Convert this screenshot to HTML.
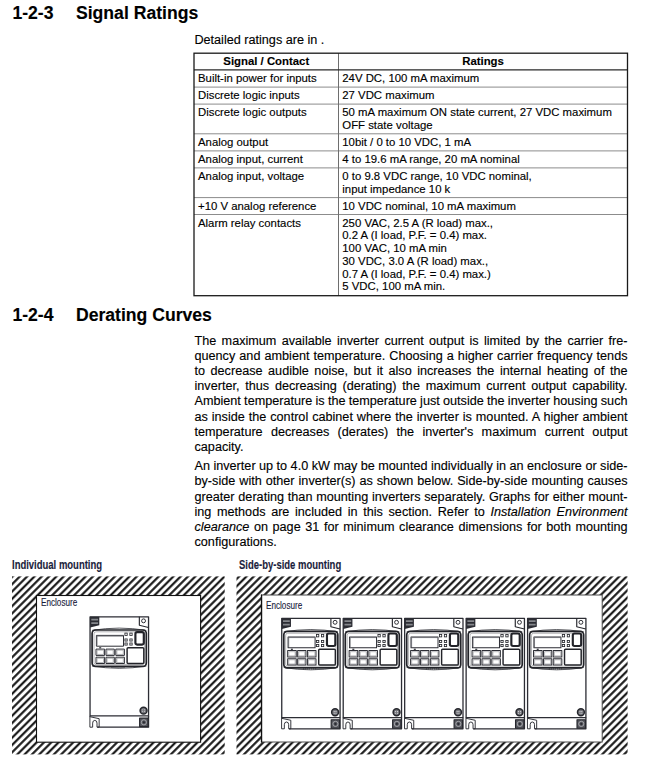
<!DOCTYPE html>
<html><head><meta charset="utf-8"><title>Signal Ratings</title>
<style>
html,body{margin:0;padding:0;background:#fff}
body{width:647px;height:768px;position:relative;overflow:hidden;font-family:"Liberation Sans",sans-serif;color:#000}
.t{position:absolute;white-space:nowrap;-webkit-text-stroke:0.13px currentColor}
.abs{position:absolute}
</style></head><body>
<svg class="abs" style="left:0;top:0" width="647" height="768" viewBox="0 0 647 768">
<defs><pattern id="h" width="5.169" height="5.169" patternUnits="userSpaceOnUse" patternTransform="rotate(45)"><rect x="1.95" y="-1" width="2.03" height="8" fill="#0a0a0a"/></pattern>
</defs>
<rect x="12" y="576.4" width="212.7" height="178" fill="url(#h)"/>
<rect x="36.5" y="595.5" width="164.1" height="146.7" fill="#fff" stroke="#111" stroke-width="1.1"/>
<rect x="236.5" y="576.4" width="391.1" height="178" fill="url(#h)"/>
<rect x="261.6" y="595" width="340.6" height="147" fill="#fff" stroke="#4a4a4a" stroke-width="1"/>
<line x1="261.5" x2="261.5" y1="594.5" y2="742.5" stroke="#111" stroke-width="1.3"/>
<g transform="translate(89.4 616.2)"><g fill="none" stroke="#2c2d34" stroke-width="1.2" stroke-linejoin="round">
<rect x="0.65" y="0.65" width="58.5" height="99.1" fill="#fff" stroke-width="1.3"/>
<path d="M0.65 0.65H9.9V9.1L0.65 11.3Z" fill="#2b2c33" stroke="none"/>
<path d="M1.9 2.5H8.7V4.4H1.9ZM1.9 6H8.7V7.8H1.9Z" fill="#85878c" stroke="none"/>
<path d="M49.95 0.65V9.1L59.1 11.3" stroke-width="1.15" stroke="#26272d"/>
<circle cx="54.15" cy="4.65" r="1.95" stroke-width="0.95" stroke="#26272d"/>
<path d="M2.6 14.2 Q29.8 9.6 57 14.2" stroke-width="0.8"/>
<path d="M2.6 49.8 Q29.8 54.4 57 49.8" stroke-width="0.8"/>
<path d="M22 51.2H36" stroke-width="0.8" stroke-dasharray="1.2 0.8"/>
<rect x="2.7" y="13.8" width="54.2" height="36.4" rx="3.4" stroke-width="1.7" stroke="#222329"/>
<rect x="4.6" y="15.6" width="50.4" height="32.8" rx="2" stroke-width="0.5" stroke="#6a6b70"/>
<rect x="7" y="19.2" width="27.1" height="10.8" stroke-width="1"/>
<path d="M7.6 29.4V19.9H33.6" stroke-width="0.9" stroke="#6f7076"/>
<g stroke-width="0.85" stroke="#26272d" stroke-linejoin="miter"><rect x="35.5" y="16.9" width="2.3" height="2.3"/><rect x="40.45" y="16.9" width="2.3" height="2.3"/>
<rect x="35.5" y="22.75" width="2.3" height="2.1"/><rect x="40.45" y="22.75" width="2.3" height="2.1"/>
<rect x="35.5" y="26.8" width="2.3" height="2.1"/><rect x="40.45" y="26.8" width="2.3" height="2.1"/></g>
<rect x="46" y="15.85" width="8.4" height="12.5" rx="1.7" stroke-width="2.15" stroke="#222329"/>
<rect x="37.7" y="31.5" width="16.7" height="15.8" rx="1" stroke-width="1.45" stroke="#222329"/>
<g stroke-width="1"><rect x="6.6" y="32.9" width="8.6" height="6.3"/><rect x="16.6" y="32.9" width="8.3" height="6.3"/><rect x="26.4" y="32.9" width="8.6" height="6.3"/>
<rect x="6.6" y="41" width="8.6" height="6.3"/><rect x="16.6" y="41" width="8.3" height="6.3"/><rect x="26.4" y="41" width="8.6" height="6.3"/></g>
<g stroke-width="0.5" stroke="#77787d"><rect x="7.7" y="34" width="6.4" height="4.2"/><rect x="17.7" y="34" width="6.1" height="4.2"/><rect x="27.5" y="34" width="6.4" height="4.2"/>
<rect x="7.7" y="42.1" width="6.4" height="4.2"/><rect x="17.7" y="42.1" width="6.1" height="4.2"/><rect x="27.5" y="42.1" width="6.4" height="4.2"/></g>
<path d="M9.8 31.6H11.8" stroke-width="1.2"/>
<path d="M0.5 99.75V111H3.25V106.9Q3.25 104.2 5.4 104.2Q7.6 104.2 7.6 106.9V111H9.75V102.5L0.5 100.5" fill="#fff" stroke-width="0.95"/>
<path d="M7.9 111H59.15V99.75" stroke-width="1.3"/>
<rect x="50.2" y="101.95" width="8.45" height="8.5" fill="#55565d" stroke="#26272d" stroke-width="1.1"/>
<circle cx="54.5" cy="106.1" r="2.6" stroke="#b4b5b9" stroke-width="0.8"/>
<circle cx="54.5" cy="106.1" r="1.1" fill="#2b2c33" stroke="none"/>
<circle cx="54.15" cy="94.45" r="3.45" fill="#74757b" stroke-width="1.5" stroke="#26272d"/>
<path d="M52.8 93.2h.9v.9h-.9zM54.6 93.2h.9v.9h-.9zM52.8 95h.9v.9h-.9zM54.6 95h.9v.9h-.9z" fill="#dcdcdf" stroke="none"/>
</g></g>
<g transform="translate(281.10 617.65) scale(0.997 1.0014)"><g fill="none" stroke="#2c2d34" stroke-width="1.2" stroke-linejoin="round">
<rect x="0.65" y="0.65" width="58.5" height="99.1" fill="#fff" stroke-width="1.3"/>
<path d="M0.65 0.65H9.9V9.1L0.65 11.3Z" fill="#2b2c33" stroke="none"/>
<path d="M1.9 2.5H8.7V4.4H1.9ZM1.9 6H8.7V7.8H1.9Z" fill="#85878c" stroke="none"/>
<path d="M49.95 0.65V9.1L59.1 11.3" stroke-width="1.15" stroke="#26272d"/>
<circle cx="54.15" cy="4.65" r="1.95" stroke-width="0.95" stroke="#26272d"/>
<path d="M2.6 14.2 Q29.8 9.6 57 14.2" stroke-width="0.8"/>
<path d="M2.6 49.8 Q29.8 54.4 57 49.8" stroke-width="0.8"/>
<path d="M22 51.2H36" stroke-width="0.8" stroke-dasharray="1.2 0.8"/>
<rect x="2.7" y="13.8" width="54.2" height="36.4" rx="3.4" stroke-width="1.7" stroke="#222329"/>
<rect x="4.6" y="15.6" width="50.4" height="32.8" rx="2" stroke-width="0.5" stroke="#6a6b70"/>
<rect x="7" y="19.2" width="27.1" height="10.8" stroke-width="1"/>
<path d="M7.6 29.4V19.9H33.6" stroke-width="0.9" stroke="#6f7076"/>
<g stroke-width="0.85" stroke="#26272d" stroke-linejoin="miter"><rect x="35.5" y="16.9" width="2.3" height="2.3"/><rect x="40.45" y="16.9" width="2.3" height="2.3"/>
<rect x="35.5" y="22.75" width="2.3" height="2.1"/><rect x="40.45" y="22.75" width="2.3" height="2.1"/>
<rect x="35.5" y="26.8" width="2.3" height="2.1"/><rect x="40.45" y="26.8" width="2.3" height="2.1"/></g>
<rect x="46" y="15.85" width="8.4" height="12.5" rx="1.7" stroke-width="2.15" stroke="#222329"/>
<rect x="37.7" y="31.5" width="16.7" height="15.8" rx="1" stroke-width="1.45" stroke="#222329"/>
<g stroke-width="1"><rect x="6.6" y="32.9" width="8.6" height="6.3"/><rect x="16.6" y="32.9" width="8.3" height="6.3"/><rect x="26.4" y="32.9" width="8.6" height="6.3"/>
<rect x="6.6" y="41" width="8.6" height="6.3"/><rect x="16.6" y="41" width="8.3" height="6.3"/><rect x="26.4" y="41" width="8.6" height="6.3"/></g>
<g stroke-width="0.5" stroke="#77787d"><rect x="7.7" y="34" width="6.4" height="4.2"/><rect x="17.7" y="34" width="6.1" height="4.2"/><rect x="27.5" y="34" width="6.4" height="4.2"/>
<rect x="7.7" y="42.1" width="6.4" height="4.2"/><rect x="17.7" y="42.1" width="6.1" height="4.2"/><rect x="27.5" y="42.1" width="6.4" height="4.2"/></g>
<path d="M9.8 31.6H11.8" stroke-width="1.2"/>
<path d="M0.5 99.75V111H3.25V106.9Q3.25 104.2 5.4 104.2Q7.6 104.2 7.6 106.9V111H9.75V102.5L0.5 100.5" fill="#fff" stroke-width="0.95"/>
<path d="M7.9 111H59.15V99.75" stroke-width="1.3"/>
<rect x="50.2" y="101.95" width="8.45" height="8.5" fill="#55565d" stroke="#26272d" stroke-width="1.1"/>
<circle cx="54.5" cy="106.1" r="2.6" stroke="#b4b5b9" stroke-width="0.8"/>
<circle cx="54.5" cy="106.1" r="1.1" fill="#2b2c33" stroke="none"/>
<circle cx="54.15" cy="94.45" r="3.45" fill="#74757b" stroke-width="1.5" stroke="#26272d"/>
<path d="M52.8 93.2h.9v.9h-.9zM54.6 93.2h.9v.9h-.9zM52.8 95h.9v.9h-.9zM54.6 95h.9v.9h-.9z" fill="#dcdcdf" stroke="none"/>
</g></g>
<g transform="translate(342.56 617.65) scale(0.997 1.0014)"><g fill="none" stroke="#2c2d34" stroke-width="1.2" stroke-linejoin="round">
<rect x="0.65" y="0.65" width="58.5" height="99.1" fill="#fff" stroke-width="1.3"/>
<path d="M0.65 0.65H9.9V9.1L0.65 11.3Z" fill="#2b2c33" stroke="none"/>
<path d="M1.9 2.5H8.7V4.4H1.9ZM1.9 6H8.7V7.8H1.9Z" fill="#85878c" stroke="none"/>
<path d="M49.95 0.65V9.1L59.1 11.3" stroke-width="1.15" stroke="#26272d"/>
<circle cx="54.15" cy="4.65" r="1.95" stroke-width="0.95" stroke="#26272d"/>
<path d="M2.6 14.2 Q29.8 9.6 57 14.2" stroke-width="0.8"/>
<path d="M2.6 49.8 Q29.8 54.4 57 49.8" stroke-width="0.8"/>
<path d="M22 51.2H36" stroke-width="0.8" stroke-dasharray="1.2 0.8"/>
<rect x="2.7" y="13.8" width="54.2" height="36.4" rx="3.4" stroke-width="1.7" stroke="#222329"/>
<rect x="4.6" y="15.6" width="50.4" height="32.8" rx="2" stroke-width="0.5" stroke="#6a6b70"/>
<rect x="7" y="19.2" width="27.1" height="10.8" stroke-width="1"/>
<path d="M7.6 29.4V19.9H33.6" stroke-width="0.9" stroke="#6f7076"/>
<g stroke-width="0.85" stroke="#26272d" stroke-linejoin="miter"><rect x="35.5" y="16.9" width="2.3" height="2.3"/><rect x="40.45" y="16.9" width="2.3" height="2.3"/>
<rect x="35.5" y="22.75" width="2.3" height="2.1"/><rect x="40.45" y="22.75" width="2.3" height="2.1"/>
<rect x="35.5" y="26.8" width="2.3" height="2.1"/><rect x="40.45" y="26.8" width="2.3" height="2.1"/></g>
<rect x="46" y="15.85" width="8.4" height="12.5" rx="1.7" stroke-width="2.15" stroke="#222329"/>
<rect x="37.7" y="31.5" width="16.7" height="15.8" rx="1" stroke-width="1.45" stroke="#222329"/>
<g stroke-width="1"><rect x="6.6" y="32.9" width="8.6" height="6.3"/><rect x="16.6" y="32.9" width="8.3" height="6.3"/><rect x="26.4" y="32.9" width="8.6" height="6.3"/>
<rect x="6.6" y="41" width="8.6" height="6.3"/><rect x="16.6" y="41" width="8.3" height="6.3"/><rect x="26.4" y="41" width="8.6" height="6.3"/></g>
<g stroke-width="0.5" stroke="#77787d"><rect x="7.7" y="34" width="6.4" height="4.2"/><rect x="17.7" y="34" width="6.1" height="4.2"/><rect x="27.5" y="34" width="6.4" height="4.2"/>
<rect x="7.7" y="42.1" width="6.4" height="4.2"/><rect x="17.7" y="42.1" width="6.1" height="4.2"/><rect x="27.5" y="42.1" width="6.4" height="4.2"/></g>
<path d="M9.8 31.6H11.8" stroke-width="1.2"/>
<path d="M0.5 99.75V111H3.25V106.9Q3.25 104.2 5.4 104.2Q7.6 104.2 7.6 106.9V111H9.75V102.5L0.5 100.5" fill="#fff" stroke-width="0.95"/>
<path d="M7.9 111H59.15V99.75" stroke-width="1.3"/>
<rect x="50.2" y="101.95" width="8.45" height="8.5" fill="#55565d" stroke="#26272d" stroke-width="1.1"/>
<circle cx="54.5" cy="106.1" r="2.6" stroke="#b4b5b9" stroke-width="0.8"/>
<circle cx="54.5" cy="106.1" r="1.1" fill="#2b2c33" stroke="none"/>
<circle cx="54.15" cy="94.45" r="3.45" fill="#74757b" stroke-width="1.5" stroke="#26272d"/>
<path d="M52.8 93.2h.9v.9h-.9zM54.6 93.2h.9v.9h-.9zM52.8 95h.9v.9h-.9zM54.6 95h.9v.9h-.9z" fill="#dcdcdf" stroke="none"/>
</g></g>
<g transform="translate(404.02 617.65) scale(0.997 1.0014)"><g fill="none" stroke="#2c2d34" stroke-width="1.2" stroke-linejoin="round">
<rect x="0.65" y="0.65" width="58.5" height="99.1" fill="#fff" stroke-width="1.3"/>
<path d="M0.65 0.65H9.9V9.1L0.65 11.3Z" fill="#2b2c33" stroke="none"/>
<path d="M1.9 2.5H8.7V4.4H1.9ZM1.9 6H8.7V7.8H1.9Z" fill="#85878c" stroke="none"/>
<path d="M49.95 0.65V9.1L59.1 11.3" stroke-width="1.15" stroke="#26272d"/>
<circle cx="54.15" cy="4.65" r="1.95" stroke-width="0.95" stroke="#26272d"/>
<path d="M2.6 14.2 Q29.8 9.6 57 14.2" stroke-width="0.8"/>
<path d="M2.6 49.8 Q29.8 54.4 57 49.8" stroke-width="0.8"/>
<path d="M22 51.2H36" stroke-width="0.8" stroke-dasharray="1.2 0.8"/>
<rect x="2.7" y="13.8" width="54.2" height="36.4" rx="3.4" stroke-width="1.7" stroke="#222329"/>
<rect x="4.6" y="15.6" width="50.4" height="32.8" rx="2" stroke-width="0.5" stroke="#6a6b70"/>
<rect x="7" y="19.2" width="27.1" height="10.8" stroke-width="1"/>
<path d="M7.6 29.4V19.9H33.6" stroke-width="0.9" stroke="#6f7076"/>
<g stroke-width="0.85" stroke="#26272d" stroke-linejoin="miter"><rect x="35.5" y="16.9" width="2.3" height="2.3"/><rect x="40.45" y="16.9" width="2.3" height="2.3"/>
<rect x="35.5" y="22.75" width="2.3" height="2.1"/><rect x="40.45" y="22.75" width="2.3" height="2.1"/>
<rect x="35.5" y="26.8" width="2.3" height="2.1"/><rect x="40.45" y="26.8" width="2.3" height="2.1"/></g>
<rect x="46" y="15.85" width="8.4" height="12.5" rx="1.7" stroke-width="2.15" stroke="#222329"/>
<rect x="37.7" y="31.5" width="16.7" height="15.8" rx="1" stroke-width="1.45" stroke="#222329"/>
<g stroke-width="1"><rect x="6.6" y="32.9" width="8.6" height="6.3"/><rect x="16.6" y="32.9" width="8.3" height="6.3"/><rect x="26.4" y="32.9" width="8.6" height="6.3"/>
<rect x="6.6" y="41" width="8.6" height="6.3"/><rect x="16.6" y="41" width="8.3" height="6.3"/><rect x="26.4" y="41" width="8.6" height="6.3"/></g>
<g stroke-width="0.5" stroke="#77787d"><rect x="7.7" y="34" width="6.4" height="4.2"/><rect x="17.7" y="34" width="6.1" height="4.2"/><rect x="27.5" y="34" width="6.4" height="4.2"/>
<rect x="7.7" y="42.1" width="6.4" height="4.2"/><rect x="17.7" y="42.1" width="6.1" height="4.2"/><rect x="27.5" y="42.1" width="6.4" height="4.2"/></g>
<path d="M9.8 31.6H11.8" stroke-width="1.2"/>
<path d="M0.5 99.75V111H3.25V106.9Q3.25 104.2 5.4 104.2Q7.6 104.2 7.6 106.9V111H9.75V102.5L0.5 100.5" fill="#fff" stroke-width="0.95"/>
<path d="M7.9 111H59.15V99.75" stroke-width="1.3"/>
<rect x="50.2" y="101.95" width="8.45" height="8.5" fill="#55565d" stroke="#26272d" stroke-width="1.1"/>
<circle cx="54.5" cy="106.1" r="2.6" stroke="#b4b5b9" stroke-width="0.8"/>
<circle cx="54.5" cy="106.1" r="1.1" fill="#2b2c33" stroke="none"/>
<circle cx="54.15" cy="94.45" r="3.45" fill="#74757b" stroke-width="1.5" stroke="#26272d"/>
<path d="M52.8 93.2h.9v.9h-.9zM54.6 93.2h.9v.9h-.9zM52.8 95h.9v.9h-.9zM54.6 95h.9v.9h-.9z" fill="#dcdcdf" stroke="none"/>
</g></g>
<g transform="translate(465.48 617.65) scale(0.997 1.0014)"><g fill="none" stroke="#2c2d34" stroke-width="1.2" stroke-linejoin="round">
<rect x="0.65" y="0.65" width="58.5" height="99.1" fill="#fff" stroke-width="1.3"/>
<path d="M0.65 0.65H9.9V9.1L0.65 11.3Z" fill="#2b2c33" stroke="none"/>
<path d="M1.9 2.5H8.7V4.4H1.9ZM1.9 6H8.7V7.8H1.9Z" fill="#85878c" stroke="none"/>
<path d="M49.95 0.65V9.1L59.1 11.3" stroke-width="1.15" stroke="#26272d"/>
<circle cx="54.15" cy="4.65" r="1.95" stroke-width="0.95" stroke="#26272d"/>
<path d="M2.6 14.2 Q29.8 9.6 57 14.2" stroke-width="0.8"/>
<path d="M2.6 49.8 Q29.8 54.4 57 49.8" stroke-width="0.8"/>
<path d="M22 51.2H36" stroke-width="0.8" stroke-dasharray="1.2 0.8"/>
<rect x="2.7" y="13.8" width="54.2" height="36.4" rx="3.4" stroke-width="1.7" stroke="#222329"/>
<rect x="4.6" y="15.6" width="50.4" height="32.8" rx="2" stroke-width="0.5" stroke="#6a6b70"/>
<rect x="7" y="19.2" width="27.1" height="10.8" stroke-width="1"/>
<path d="M7.6 29.4V19.9H33.6" stroke-width="0.9" stroke="#6f7076"/>
<g stroke-width="0.85" stroke="#26272d" stroke-linejoin="miter"><rect x="35.5" y="16.9" width="2.3" height="2.3"/><rect x="40.45" y="16.9" width="2.3" height="2.3"/>
<rect x="35.5" y="22.75" width="2.3" height="2.1"/><rect x="40.45" y="22.75" width="2.3" height="2.1"/>
<rect x="35.5" y="26.8" width="2.3" height="2.1"/><rect x="40.45" y="26.8" width="2.3" height="2.1"/></g>
<rect x="46" y="15.85" width="8.4" height="12.5" rx="1.7" stroke-width="2.15" stroke="#222329"/>
<rect x="37.7" y="31.5" width="16.7" height="15.8" rx="1" stroke-width="1.45" stroke="#222329"/>
<g stroke-width="1"><rect x="6.6" y="32.9" width="8.6" height="6.3"/><rect x="16.6" y="32.9" width="8.3" height="6.3"/><rect x="26.4" y="32.9" width="8.6" height="6.3"/>
<rect x="6.6" y="41" width="8.6" height="6.3"/><rect x="16.6" y="41" width="8.3" height="6.3"/><rect x="26.4" y="41" width="8.6" height="6.3"/></g>
<g stroke-width="0.5" stroke="#77787d"><rect x="7.7" y="34" width="6.4" height="4.2"/><rect x="17.7" y="34" width="6.1" height="4.2"/><rect x="27.5" y="34" width="6.4" height="4.2"/>
<rect x="7.7" y="42.1" width="6.4" height="4.2"/><rect x="17.7" y="42.1" width="6.1" height="4.2"/><rect x="27.5" y="42.1" width="6.4" height="4.2"/></g>
<path d="M9.8 31.6H11.8" stroke-width="1.2"/>
<path d="M0.5 99.75V111H3.25V106.9Q3.25 104.2 5.4 104.2Q7.6 104.2 7.6 106.9V111H9.75V102.5L0.5 100.5" fill="#fff" stroke-width="0.95"/>
<path d="M7.9 111H59.15V99.75" stroke-width="1.3"/>
<rect x="50.2" y="101.95" width="8.45" height="8.5" fill="#55565d" stroke="#26272d" stroke-width="1.1"/>
<circle cx="54.5" cy="106.1" r="2.6" stroke="#b4b5b9" stroke-width="0.8"/>
<circle cx="54.5" cy="106.1" r="1.1" fill="#2b2c33" stroke="none"/>
<circle cx="54.15" cy="94.45" r="3.45" fill="#74757b" stroke-width="1.5" stroke="#26272d"/>
<path d="M52.8 93.2h.9v.9h-.9zM54.6 93.2h.9v.9h-.9zM52.8 95h.9v.9h-.9zM54.6 95h.9v.9h-.9z" fill="#dcdcdf" stroke="none"/>
</g></g>
<g transform="translate(526.94 617.65) scale(0.997 1.0014)"><g fill="none" stroke="#2c2d34" stroke-width="1.2" stroke-linejoin="round">
<rect x="0.65" y="0.65" width="58.5" height="99.1" fill="#fff" stroke-width="1.3"/>
<path d="M0.65 0.65H9.9V9.1L0.65 11.3Z" fill="#2b2c33" stroke="none"/>
<path d="M1.9 2.5H8.7V4.4H1.9ZM1.9 6H8.7V7.8H1.9Z" fill="#85878c" stroke="none"/>
<path d="M49.95 0.65V9.1L59.1 11.3" stroke-width="1.15" stroke="#26272d"/>
<circle cx="54.15" cy="4.65" r="1.95" stroke-width="0.95" stroke="#26272d"/>
<path d="M2.6 14.2 Q29.8 9.6 57 14.2" stroke-width="0.8"/>
<path d="M2.6 49.8 Q29.8 54.4 57 49.8" stroke-width="0.8"/>
<path d="M22 51.2H36" stroke-width="0.8" stroke-dasharray="1.2 0.8"/>
<rect x="2.7" y="13.8" width="54.2" height="36.4" rx="3.4" stroke-width="1.7" stroke="#222329"/>
<rect x="4.6" y="15.6" width="50.4" height="32.8" rx="2" stroke-width="0.5" stroke="#6a6b70"/>
<rect x="7" y="19.2" width="27.1" height="10.8" stroke-width="1"/>
<path d="M7.6 29.4V19.9H33.6" stroke-width="0.9" stroke="#6f7076"/>
<g stroke-width="0.85" stroke="#26272d" stroke-linejoin="miter"><rect x="35.5" y="16.9" width="2.3" height="2.3"/><rect x="40.45" y="16.9" width="2.3" height="2.3"/>
<rect x="35.5" y="22.75" width="2.3" height="2.1"/><rect x="40.45" y="22.75" width="2.3" height="2.1"/>
<rect x="35.5" y="26.8" width="2.3" height="2.1"/><rect x="40.45" y="26.8" width="2.3" height="2.1"/></g>
<rect x="46" y="15.85" width="8.4" height="12.5" rx="1.7" stroke-width="2.15" stroke="#222329"/>
<rect x="37.7" y="31.5" width="16.7" height="15.8" rx="1" stroke-width="1.45" stroke="#222329"/>
<g stroke-width="1"><rect x="6.6" y="32.9" width="8.6" height="6.3"/><rect x="16.6" y="32.9" width="8.3" height="6.3"/><rect x="26.4" y="32.9" width="8.6" height="6.3"/>
<rect x="6.6" y="41" width="8.6" height="6.3"/><rect x="16.6" y="41" width="8.3" height="6.3"/><rect x="26.4" y="41" width="8.6" height="6.3"/></g>
<g stroke-width="0.5" stroke="#77787d"><rect x="7.7" y="34" width="6.4" height="4.2"/><rect x="17.7" y="34" width="6.1" height="4.2"/><rect x="27.5" y="34" width="6.4" height="4.2"/>
<rect x="7.7" y="42.1" width="6.4" height="4.2"/><rect x="17.7" y="42.1" width="6.1" height="4.2"/><rect x="27.5" y="42.1" width="6.4" height="4.2"/></g>
<path d="M9.8 31.6H11.8" stroke-width="1.2"/>
<path d="M0.5 99.75V111H3.25V106.9Q3.25 104.2 5.4 104.2Q7.6 104.2 7.6 106.9V111H9.75V102.5L0.5 100.5" fill="#fff" stroke-width="0.95"/>
<path d="M7.9 111H59.15V99.75" stroke-width="1.3"/>
<rect x="50.2" y="101.95" width="8.45" height="8.5" fill="#55565d" stroke="#26272d" stroke-width="1.1"/>
<circle cx="54.5" cy="106.1" r="2.6" stroke="#b4b5b9" stroke-width="0.8"/>
<circle cx="54.5" cy="106.1" r="1.1" fill="#2b2c33" stroke="none"/>
<circle cx="54.15" cy="94.45" r="3.45" fill="#74757b" stroke-width="1.5" stroke="#26272d"/>
<path d="M52.8 93.2h.9v.9h-.9zM54.6 93.2h.9v.9h-.9zM52.8 95h.9v.9h-.9zM54.6 95h.9v.9h-.9z" fill="#dcdcdf" stroke="none"/>
</g></g>
</svg>
<div class="t" style="left:12.4px;top:2.40px;font-size:17.6px;line-height:23px;font-weight:bold;">1-2-3</div>
<div class="t" style="left:76.0px;top:2.40px;font-size:17.6px;line-height:23px;font-weight:bold;">Signal Ratings</div>
<div class="t" style="left:12.4px;top:304.40px;font-size:17.6px;line-height:23px;font-weight:bold;">1-2-4</div>
<div class="t" style="left:76.0px;top:304.40px;font-size:17.6px;line-height:23px;font-weight:bold;">Derating Curves</div>
<div class="t" style="left:194.4px;top:31.72px;font-size:12.65px;line-height:17px;">Detailed ratings are in .</div>
<svg class="abs" style="left:0;top:0" width="647" height="768" viewBox="0 0 647 768"><line x1="194.0" x2="627.5" y1="87.1" y2="87.1" stroke="#8c8c8c" stroke-width="1"/><line x1="194.0" x2="627.5" y1="104.1" y2="104.1" stroke="#8c8c8c" stroke-width="1"/><line x1="194.0" x2="627.5" y1="133.8" y2="133.8" stroke="#8c8c8c" stroke-width="1"/><line x1="194.0" x2="627.5" y1="150.9" y2="150.9" stroke="#8c8c8c" stroke-width="1"/><line x1="194.0" x2="627.5" y1="167.9" y2="167.9" stroke="#8c8c8c" stroke-width="1"/><line x1="194.0" x2="627.5" y1="197.6" y2="197.6" stroke="#8c8c8c" stroke-width="1"/><line x1="194.0" x2="627.5" y1="214.5" y2="214.5" stroke="#8c8c8c" stroke-width="1"/><line x1="338.5" x2="338.5" y1="53.2" y2="295.7" stroke="#6e6e6e" stroke-width="1"/><line x1="194.0" x2="627.5" y1="69.8" y2="69.8" stroke="#2a2a2a" stroke-width="1.2"/><rect x="194.0" y="53.2" width="433.5" height="242.5" fill="none" stroke="#1a1a1a" stroke-width="1.3"/></svg>
<div class="t" style="left:116.25px;width:300px;text-align:center;top:53.36px;font-size:11.36px;line-height:16px;font-weight:bold">Signal / Contact</div>
<div class="t" style="left:333.0px;width:300px;text-align:center;top:53.36px;font-size:11.36px;line-height:16px;font-weight:bold">Ratings</div>
<div class="t" style="left:198.0px;top:70.16px;font-size:11.36px;line-height:16px;">Built-in power for inputs</div>
<div class="t" style="left:342.3px;top:70.16px;font-size:11.36px;line-height:16px;">24V DC, 100 mA maximum</div>
<div class="t" style="left:198.0px;top:87.26px;font-size:11.36px;line-height:16px;">Discrete logic inputs</div>
<div class="t" style="left:342.3px;top:87.26px;font-size:11.36px;line-height:16px;">27 VDC maximum</div>
<div class="t" style="left:198.0px;top:104.26px;font-size:11.36px;line-height:16px;">Discrete logic outputs</div>
<div class="t" style="left:342.3px;top:104.26px;font-size:11.36px;line-height:16px;">50 mA maximum ON state current, 27 VDC maximum</div>
<div class="t" style="left:342.3px;top:117.01px;font-size:11.36px;line-height:16px;">OFF state voltage</div>
<div class="t" style="left:198.0px;top:134.06px;font-size:11.36px;line-height:16px;">Analog output</div>
<div class="t" style="left:342.3px;top:134.06px;font-size:11.36px;line-height:16px;">10bit / 0 to 10 VDC, 1 mA</div>
<div class="t" style="left:198.0px;top:151.06px;font-size:11.36px;line-height:16px;">Analog input, current</div>
<div class="t" style="left:342.3px;top:151.06px;font-size:11.36px;line-height:16px;">4 to 19.6 mA range, 20 mA nominal</div>
<div class="t" style="left:198.0px;top:168.06px;font-size:11.36px;line-height:16px;">Analog input, voltage</div>
<div class="t" style="left:342.3px;top:168.06px;font-size:11.36px;line-height:16px;">0 to 9.8 VDC range, 10 VDC nominal,</div>
<div class="t" style="left:342.3px;top:180.81px;font-size:11.36px;line-height:16px;">input impedance 10 k</div>
<div class="t" style="left:198.0px;top:197.76px;font-size:11.36px;line-height:16px;">+10 V analog reference</div>
<div class="t" style="left:342.3px;top:197.76px;font-size:11.36px;line-height:16px;">10 VDC nominal, 10 mA maximum</div>
<div class="t" style="left:198.0px;top:214.66px;font-size:11.36px;line-height:16px;">Alarm relay contacts</div>
<div class="t" style="left:342.3px;top:214.66px;font-size:11.36px;line-height:16px;">250 VAC, 2.5 A (R load) max.,</div>
<div class="t" style="left:342.3px;top:227.41px;font-size:11.36px;line-height:16px;">0.2 A (I load, P.F. = 0.4) max.</div>
<div class="t" style="left:342.3px;top:240.16px;font-size:11.36px;line-height:16px;">100 VAC, 10 mA min</div>
<div class="t" style="left:342.3px;top:252.91px;font-size:11.36px;line-height:16px;">30 VDC, 3.0 A (R load) max.,</div>
<div class="t" style="left:342.3px;top:265.66px;font-size:11.36px;line-height:16px;">0.7 A (I load, P.F. = 0.4) max.)</div>
<div class="t" style="left:342.3px;top:278.41px;font-size:11.36px;line-height:16px;">5 VDC, 100 mA min.</div>
<div class="t" style="left:194.5px;top:332.52px;font-size:12.65px;line-height:17px;width:433.0px;text-align:justify;text-align-last:justify;">The maximum available inverter current output is limited by the carrier fre-</div>
<div class="t" style="left:194.5px;top:347.72px;font-size:12.65px;line-height:17px;width:433.0px;text-align:justify;text-align-last:justify;">quency and ambient temperature. Choosing a higher carrier frequency tends</div>
<div class="t" style="left:194.5px;top:362.92px;font-size:12.65px;line-height:17px;width:433.0px;text-align:justify;text-align-last:justify;">to decrease audible noise, but it also increases the internal heating of the</div>
<div class="t" style="left:194.5px;top:378.12px;font-size:12.65px;line-height:17px;width:433.0px;text-align:justify;text-align-last:justify;">inverter, thus decreasing (derating) the maximum current output capability.</div>
<div class="t" style="left:194.5px;top:393.32px;font-size:12.65px;line-height:17px;width:433.0px;text-align:justify;text-align-last:justify;word-spacing:-0.28px;">Ambient temperature is the temperature just outside the inverter housing such</div>
<div class="t" style="left:194.5px;top:408.52px;font-size:12.65px;line-height:17px;width:433.0px;text-align:justify;text-align-last:justify;">as inside the control cabinet where the inverter is mounted. A higher ambient</div>
<div class="t" style="left:194.5px;top:423.72px;font-size:12.65px;line-height:17px;width:433.0px;text-align:justify;text-align-last:justify;">temperature decreases (derates) the inverter&#39;s maximum current output</div>
<div class="t" style="left:194.5px;top:438.92px;font-size:12.65px;line-height:17px;">capacity.</div>
<div class="t" style="left:194.5px;top:457.52px;font-size:12.65px;line-height:17px;width:433.0px;text-align:justify;text-align-last:justify;word-spacing:-0.06px;">An inverter up to 4.0 kW may be mounted individually in an enclosure or side-</div>
<div class="t" style="left:194.5px;top:472.72px;font-size:12.65px;line-height:17px;width:433.0px;text-align:justify;text-align-last:justify;">by-side with other inverter(s) as shown below. Side-by-side mounting causes</div>
<div class="t" style="left:194.5px;top:488.52px;font-size:12.65px;line-height:17px;width:433.0px;text-align:justify;text-align-last:justify;">greater derating than mounting inverters separately. Graphs for either mount-</div>
<div class="t" style="left:194.5px;top:503.72px;font-size:12.65px;line-height:17px;width:433.0px;text-align:justify;text-align-last:justify;">ing methods are included in this section. Refer to <i>Installation Environment</i></div>
<div class="t" style="left:194.5px;top:518.92px;font-size:12.65px;line-height:17px;width:433.0px;text-align:justify;text-align-last:justify;"><i>clearance</i> on page 31 for minimum clearance dimensions for both mounting</div>
<div class="t" style="left:194.5px;top:533.72px;font-size:12.65px;line-height:17px;">configurations.</div>
<div class="t" style="left:12.0px;top:556.74px;font-size:12px;line-height:16px;font-weight:bold;color:#1a1d3c;transform:scaleX(0.79);transform-origin:0 0;">Individual mounting</div>
<div class="t" style="left:238.8px;top:556.74px;font-size:12px;line-height:16px;font-weight:bold;color:#1a1d3c;transform:scaleX(0.79);transform-origin:0 0;">Side-by-side mounting</div>
<div class="t" style="left:41.3px;top:596.17px;font-size:10.2px;line-height:14px;color:#1a1d3c;transform:scaleX(0.8);transform-origin:0 0;">Enclosure</div>
<div class="t" style="left:265.5px;top:598.67px;font-size:10.2px;line-height:14px;color:#1a1d3c;transform:scaleX(0.8);transform-origin:0 0;">Enclosure</div>
</body></html>
